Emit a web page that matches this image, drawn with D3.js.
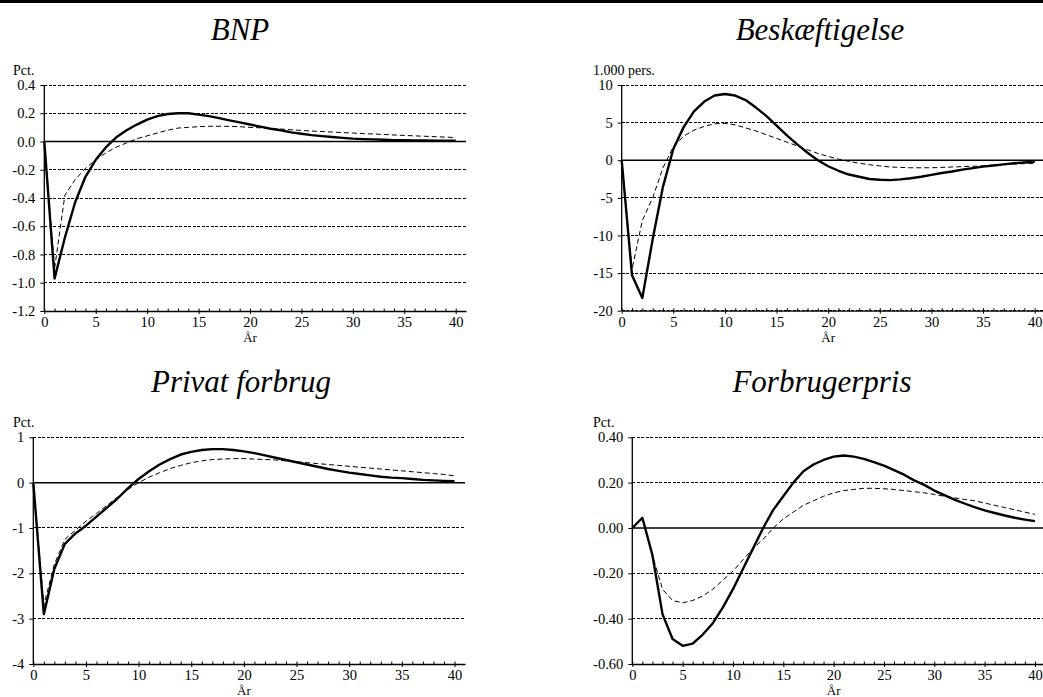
<!DOCTYPE html>
<html>
<head>
<meta charset="utf-8">
<script src="https://cdn.jsdelivr.net/npm/d3@7"></script>
<style>
  html, body { margin: 0; padding: 0; background: #fff; }
  svg { display: block; }
</style>
</head>
<body>
<svg id="chart" width="1043" height="697"></svg>
<script>
// ---------- DATA ----------
const years = [0,1,2,3,4,5,6,7,8,9,10,11,12,13,14,15,16,17,18,19,20,21,22,23,24,25,26,27,28,29,30,31,32,33,34,35,36,37,38,39,40];
const xTicks = [0,5,10,15,20,25,30,35,40];

const titles = ["BNP", "Beskæftigelse", "Privat forbrug", "Forbrugerpris"];
const unitLabels = ["Pct.", "1.000 pers.", "Pct.", "Pct."];
const xLabel = "År";

const bnpTicks = [0.4, 0.2, 0.0, -0.2, -0.4, -0.6, -0.8, -1.0, -1.2];
const beskTicks = [10, 5, 0, -5, -10, -15, -20];
const forbrugTicks = [1, 0, -1, -2, -3, -4];
const prisTicks = [0.40, 0.20, 0.00, -0.20, -0.40, -0.60];

const bnpSolid = [0,-0.97,-0.68,-0.43,-0.25,-0.13,-0.04,0.03,0.08,0.12,0.155,0.18,0.195,0.2,0.2,0.19,0.18,0.165,0.15,0.135,0.12,0.105,0.09,0.08,0.065,0.055,0.045,0.038,0.032,0.026,0.02,0.017,0.015,0.012,0.01,0.009,0.008,0.007,0.006,0.005,0.005];
const bnpDashed = [0,-0.9,-0.38,-0.27,-0.19,-0.13,-0.08,-0.04,-0.01,0.02,0.04,0.06,0.08,0.095,0.1,0.105,0.108,0.108,0.107,0.105,0.1,0.097,0.092,0.088,0.083,0.078,0.074,0.071,0.067,0.063,0.06,0.056,0.053,0.05,0.046,0.043,0.04,0.037,0.034,0.031,0.028];

const beskSolid = [0,-15.3,-18.3,-10.5,-3.5,1.5,4.4,6.5,7.8,8.6,8.8,8.6,8.0,7.0,5.9,4.6,3.3,2.1,1.0,0.0,-0.8,-1.4,-1.9,-2.2,-2.5,-2.6,-2.65,-2.55,-2.4,-2.2,-1.95,-1.7,-1.5,-1.25,-1.05,-0.85,-0.7,-0.55,-0.4,-0.3,-0.2];
const beskDashed = [0,-14.5,-8,-5,-1,1.8,3.2,4.0,4.5,4.85,4.9,4.7,4.3,3.9,3.4,2.9,2.4,1.9,1.4,0.9,0.5,0.15,-0.15,-0.4,-0.6,-0.75,-0.9,-0.95,-1.0,-1.0,-1.0,-0.95,-0.9,-0.85,-0.8,-0.75,-0.65,-0.55,-0.5,-0.45,-0.4];

const forbrugSolid = [0,-2.9,-1.9,-1.35,-1.12,-0.95,-0.75,-0.55,-0.35,-0.12,0.08,0.25,0.4,0.52,0.62,0.68,0.72,0.74,0.74,0.72,0.69,0.65,0.6,0.55,0.5,0.45,0.4,0.35,0.3,0.26,0.22,0.19,0.16,0.13,0.11,0.1,0.08,0.06,0.05,0.04,0.03];
const forbrugDashed = [0,-2.7,-1.8,-1.25,-1.05,-0.85,-0.68,-0.5,-0.32,-0.15,0.0,0.12,0.22,0.31,0.38,0.44,0.48,0.51,0.52,0.53,0.53,0.52,0.51,0.5,0.48,0.46,0.44,0.42,0.4,0.38,0.36,0.34,0.32,0.3,0.28,0.26,0.24,0.22,0.2,0.18,0.15];

const prisSolid = [0,0.045,-0.12,-0.38,-0.49,-0.52,-0.51,-0.47,-0.42,-0.35,-0.27,-0.18,-0.09,0.0,0.08,0.14,0.2,0.25,0.28,0.3,0.315,0.32,0.315,0.305,0.29,0.275,0.255,0.235,0.21,0.19,0.165,0.145,0.125,0.108,0.092,0.078,0.066,0.055,0.045,0.037,0.03];
const prisDashed = [0,0.04,-0.12,-0.27,-0.32,-0.33,-0.32,-0.3,-0.27,-0.23,-0.19,-0.14,-0.09,-0.05,0.0,0.04,0.07,0.1,0.12,0.14,0.155,0.165,0.17,0.175,0.175,0.173,0.17,0.165,0.16,0.155,0.148,0.14,0.133,0.126,0.12,0.11,0.1,0.09,0.08,0.07,0.06];

// ---------- LAYOUT ----------
const FONT = "Liberation Serif";

const panels = [
  { title: titles[0], unit: unitLabels[0], ticks: bnpTicks, fmt: d => d.toFixed(1), solid: bnpSolid, dashed: bnpDashed,
    left: 44.3, right: 466, top: 85, bottom: 311, titleX: 240, titleY: 40, unitX: 13, unitY: 75 },
  { title: titles[1], unit: unitLabels[1], ticks: beskTicks, fmt: d => String(d), solid: beskSolid, dashed: beskDashed,
    left: 621.7, right: 1045, top: 85, bottom: 310.7, titleX: 820, titleY: 40, unitX: 593, unitY: 75 },
  { title: titles[2], unit: unitLabels[2], ticks: forbrugTicks, fmt: d => String(d), solid: forbrugSolid, dashed: forbrugDashed,
    left: 33.3, right: 465, top: 437.3, bottom: 664, titleX: 241, titleY: 392, unitX: 13, unitY: 427 },
  { title: titles[3], unit: unitLabels[3], ticks: prisTicks, fmt: d => d.toFixed(2), solid: prisSolid, dashed: prisDashed,
    left: 632.3, right: 1045, top: 437.3, bottom: 664, titleX: 822, titleY: 392, unitX: 593, unitY: 427 }
];

const svg = d3.select("#chart");

// top border
svg.append("rect").attr("x", 0).attr("y", 0).attr("width", 1043).attr("height", 3).attr("fill", "#000");

panels.forEach(p => {
  const g = svg.append("g");
  const x = d3.scaleLinear().domain([0, 41]).range([p.left, p.right]);
  const y = d3.scaleLinear().domain([d3.min(p.ticks), d3.max(p.ticks)]).range([p.bottom, p.top]);

  g.append("text").attr("x", p.titleX).attr("y", p.titleY)
    .attr("text-anchor", "middle").style("font-family", FONT)
    .attr("font-size", 31).attr("font-style", "italic")
    .text(p.title);

  g.append("text").attr("x", p.unitX).attr("y", p.unitY)
    .style("font-family", FONT).attr("font-size", 14).text(p.unit);

  p.ticks.forEach(t => {
    if (t === 0) return;
    g.append("line")
      .attr("x1", x(0)).attr("x2", x(41)).attr("y1", y(t)).attr("y2", y(t))
      .attr("stroke", "#000").attr("stroke-width", 1).attr("stroke-dasharray", "3,1.5")
      .attr("shape-rendering", "crispEdges");
  });

  const yAxis = d3.axisLeft(y).tickValues(p.ticks).tickFormat(p.fmt).tickSize(4).tickPadding(5);
  const ya = g.append("g").attr("transform", `translate(${x(0)},0)`).call(yAxis)
    .attr("font-size", 14.5);
  ya.selectAll("text").style("font-family", FONT);
  ya.select(".domain").attr("stroke-width", 1.3).attr("d", `M0,${p.top}V${p.bottom}`);

  const xMinor = d3.axisBottom(x).tickValues(years).tickSize(-2.5).tickFormat("");
  const xm = g.append("g").attr("transform", `translate(0,${p.bottom})`).call(xMinor);
  xm.select(".domain").remove();

  const xAxis = d3.axisBottom(x).tickValues(xTicks).tickFormat(d => String(d)).tickSizeInner(3).tickSizeOuter(0).tickPadding(3);
  const xa = g.append("g").attr("transform", `translate(0,${p.bottom})`).call(xAxis)
    .attr("font-size", 14.5);
  xa.selectAll("text").style("font-family", FONT);
  xa.select(".domain").attr("stroke-width", 1.3);

  g.append("text").attr("x", x(20)).attr("y", p.bottom + 31)
    .attr("text-anchor", "middle").style("font-family", FONT).attr("font-size", 13).text(xLabel);

  g.append("line").attr("x1", x(0)).attr("x2", x(41)).attr("y1", y(0)).attr("y2", y(0))
    .attr("stroke", "#000").attr("stroke-width", 1.5);

  const line = d3.line().x((d, i) => x(years[i])).y(d => y(d));

  g.append("path").datum(p.dashed).attr("d", line)
    .attr("fill", "none").attr("stroke", "#000").attr("stroke-width", 1).attr("stroke-dasharray", "5,3");
  g.append("path").datum(p.solid).attr("d", line)
    .attr("fill", "none").attr("stroke", "#000").attr("stroke-width", 2.4).attr("stroke-linejoin", "round");
});
</script>
</body>
</html>
